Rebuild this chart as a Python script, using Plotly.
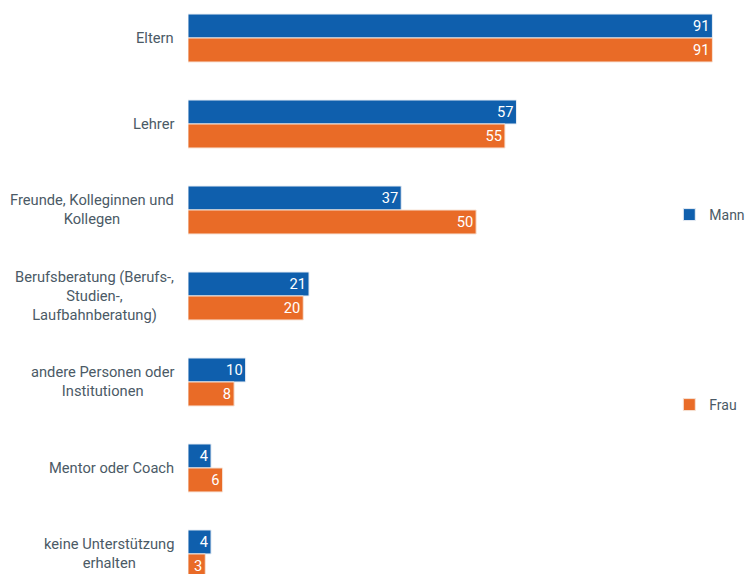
import plotly.graph_objects as go

# Categories shown top to bottom
categories = [
    "Eltern",
    "Lehrer",
    "Freunde, Kolleginnen und<br>Kollegen",
    "Berufsberatung (Berufs-,<br>Studien-,<br>Laufbahnberatung)",
    "andere Personen oder<br>Institutionen",
    "Mentor oder Coach",
    "keine Unterstützung<br>erhalten",
]
mann = [91, 57, 37, 21, 10, 4, 4]
frau = [91, 55, 50, 20, 8, 6, 3]

BLUE = "#0f5fad"
ORANGE = "#e96b27"
TEXT = "#4b5a66"
FONT = "Roboto"
FS = 14.7

fig = go.Figure()
fig.add_trace(go.Bar(
    y=categories, x=mann, name="Mann", orientation="h",
    marker=dict(color=BLUE, line=dict(color="#e8eef5", width=1)),
    text=mann, textposition="inside", insidetextanchor="end", textangle=0,
    textfont=dict(color="white", size=FS, family=FONT),
    legend="legend", showlegend=True,
))
fig.add_trace(go.Bar(
    y=categories, x=frau, name="Frau", orientation="h",
    marker=dict(color=ORANGE, line=dict(color="#f7e3d6", width=1)),
    text=frau, textposition="inside", insidetextanchor="end", textangle=0,
    textfont=dict(color="white", size=FS, family=FONT),
    legend="legend2", showlegend=True,
))

# Category labels: centred lines, right-aligned block
for c in categories:
    fig.add_annotation(
        x=0, xref="paper", y=c, yref="y", text=c, showarrow=False,
        xanchor="right", yanchor="middle", align="center", xshift=-12,
        font=dict(size=FS, color=TEXT, family=FONT),
    )

LEG_X = 0.861
LEG_FONT = dict(size=14, color=TEXT, family=FONT)
fig.update_layout(
    width=747, height=574,
    margin=dict(l=188, r=0, t=0, b=0, autoexpand=False),
    paper_bgcolor="white", plot_bgcolor="white",
    showlegend=True,
    barmode="group", bargap=0.442, bargroupgap=0,
    font=dict(family=FONT, color=TEXT, size=FS),
    uniformtext=dict(minsize=FS, mode="show"),
    xaxis=dict(range=[0, 97], visible=False, fixedrange=True),
    yaxis=dict(categoryorder="array", categoryarray=categories,
               range=[6.233, -0.442], showticklabels=False,
               showgrid=False, zeroline=False, showline=False, ticks=""),
    legend=dict(x=LEG_X, y=1 - 215 / 574, xanchor="left", yanchor="middle",
                bgcolor="rgba(0,0,0,0)", font=LEG_FONT),
    legend2=dict(x=LEG_X, y=1 - 405 / 574, xanchor="left", yanchor="middle",
                 bgcolor="rgba(0,0,0,0)", font=LEG_FONT),
)

fig.write_html("out.html")
